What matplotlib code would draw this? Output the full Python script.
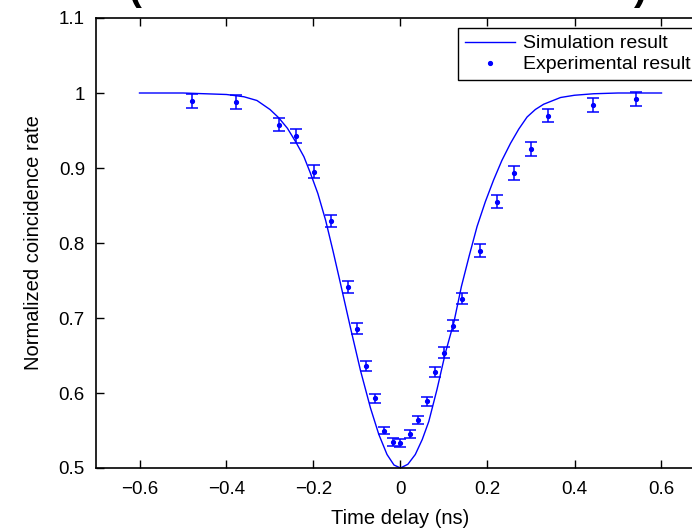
import matplotlib
matplotlib.use("Agg")
import matplotlib.pyplot as plt
from matplotlib.ticker import FuncFormatter

plt.rcParams['font.family'] = ['Liberation Sans', 'DejaVu Sans']

# simulated HOM dip
sim_delay = [-0.60, -0.50, -0.45, -0.40, -0.36, -0.33, -0.30, -0.28, -0.26, -0.24,
             -0.222, -0.207, -0.19, -0.172, -0.155, -0.138, -0.115, -0.092, -0.069,
             -0.050, -0.031, -0.015, 0.000, 0.017, 0.034, 0.050, 0.065, 0.084,
             0.103, 0.123, 0.140, 0.158, 0.176, 0.195, 0.214, 0.233, 0.253, 0.272,
             0.291, 0.310, 0.329, 0.368, 0.40, 0.444, 0.50, 0.60]
sim_rate = [1.000, 1.000, 0.999, 0.998, 0.995, 0.990, 0.978, 0.967, 0.953, 0.934,
            0.915, 0.893, 0.866, 0.830, 0.789, 0.746, 0.687, 0.630, 0.580,
            0.545, 0.518, 0.504, 0.500, 0.505, 0.518, 0.538, 0.562, 0.605,
            0.653, 0.695, 0.742, 0.783, 0.822, 0.855, 0.884, 0.910, 0.933, 0.952,
            0.968, 0.978, 0.985, 0.994, 0.997, 0.999, 1.000, 1.000]

# measured points with error bars
exp_delay = [-0.479, -0.379, -0.280, -0.240, -0.199, -0.160, -0.120, -0.100, -0.079,
             -0.059, -0.039, -0.018, 0.000, 0.021, 0.041, 0.060, 0.080, 0.101,
             0.120, 0.141, 0.182, 0.221, 0.261, 0.300, 0.340, 0.442, 0.542]
exp_rate = [0.989, 0.988, 0.958, 0.943, 0.895, 0.829, 0.742, 0.686, 0.636,
            0.593, 0.550, 0.535, 0.533, 0.545, 0.564, 0.589, 0.628, 0.654,
            0.690, 0.726, 0.790, 0.855, 0.893, 0.925, 0.970, 0.984, 0.992]
exp_err = [0.0095, 0.0097, 0.0093, 0.0093, 0.0089, 0.0083, 0.0080, 0.0069, 0.0064,
           0.0060, 0.0053, 0.0056, 0.0053, 0.0056, 0.0056, 0.0060, 0.0069, 0.0067,
           0.0071, 0.0077, 0.0083, 0.0089, 0.0093, 0.0091, 0.0089, 0.0097, 0.0097]

xticks = [-0.6, -0.4, -0.2, 0, 0.2, 0.4, 0.6]
yticks = [0.5, 0.6, 0.7, 0.8, 0.9, 1.0, 1.1]

W, H = 692, 532
fig = plt.figure(figsize=(W / 100, H / 100), dpi=100)
# axes runs a bit past the right edge, as in the cropped original
ax = fig.add_axes([96 / W, 64 / H, 609 / W, 450 / H])

sim_line, = ax.plot(sim_delay, sim_rate, color='b', lw=1.0, label='Simulation result')
eb = ax.errorbar(exp_delay, exp_rate, yerr=exp_err, fmt='.', color='b', ms=5.5,
                 capsize=4.5, elinewidth=1.1, capthick=1.1)

ax.set_xlim(-0.7, 0.7)
ax.set_ylim(0.5, 1.1)
ax.set_xticks(xticks)
ax.set_yticks(yticks)
fmt = FuncFormatter(lambda v, p: ('%g' % v).replace('-', '\u2212'))
ax.xaxis.set_major_formatter(fmt)
ax.yaxis.set_major_formatter(fmt)
ax.tick_params(direction='in', length=6, width=1, labelsize=13.5,
               top=True, right=True)
ax.tick_params(axis='x', pad=9)
ax.tick_params(axis='y', pad=8)
for s in ax.spines.values():
    s.set_linewidth(1.2)

ax.set_xlabel('Time delay (ns)', fontsize=14.5, labelpad=8)
ax.set_ylabel('Normalized coincidence rate', fontsize=14.5, labelpad=11)

leg = ax.legend([sim_line, eb[0]], ['Simulation result', 'Experimental result'],
                loc='upper left', bbox_to_anchor=(0.594, 0.978), borderaxespad=0,
                fontsize=14, fancybox=False, framealpha=1, edgecolor='black',
                handlelength=2.6, handletextpad=0.4, borderpad=0.35,
                labelspacing=0.18)
leg.get_frame().set_linewidth(1.0)

# bottom of the cut-off panel title
fig.text(128 / W, 1 - 0.5 / H, '(', fontsize=28, fontweight='bold',
         va='baseline', ha='left')
fig.text(634 / W, 1 - 0.5 / H, ')', fontsize=28, fontweight='bold',
         va='baseline', ha='left')

fig.savefig('out.png', dpi=100)
